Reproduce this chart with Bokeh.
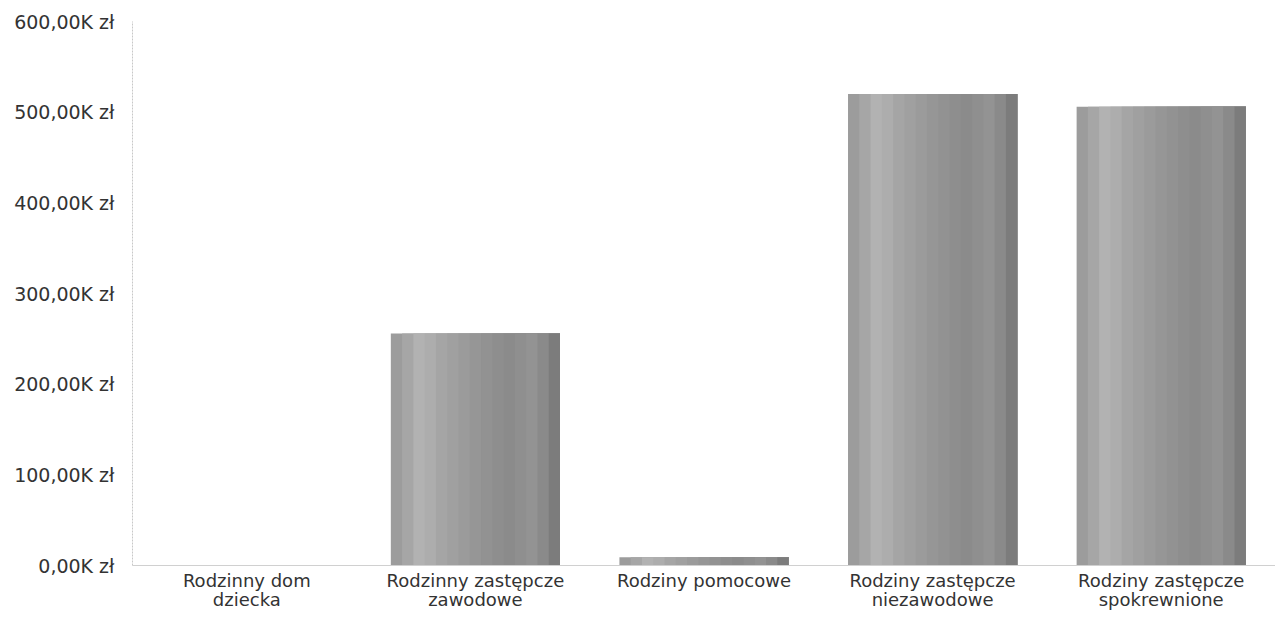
from bokeh.plotting import figure
from bokeh.models import ColumnDataSource, CustomJSTickFormatter, FactorRange
from bokeh.transform import dodge
from bokeh.embed import file_html
from bokeh.resources import INLINE

categories = ["Rodzinny dom\ndziecka", "Rodzinny zastępcze\nzawodowe", "Rodziny pomocowe",
              "Rodziny zastępcze\nniezawodowe", "Rodziny zastępcze\nspokrewnione"]
values = [0, 256000, 9000, 520000, 506000]
y_ticks = [0, 100000, 200000, 300000, 400000, 500000, 600000]

source = ColumnDataSource(data=dict(cat=categories, val=values))

p = figure(x_range=FactorRange(*categories, range_padding=0), y_range=(0, 600000),
           width=1275, height=618, output_backend="svg", toolbar_location=None,
           min_border_left=132, min_border_right=0, min_border_top=21, min_border_bottom=53)
p.outline_line_color = None
p.background_fill_color = "white"
p.xgrid.grid_line_color = None
p.ygrid.grid_line_color = None

# bar drawn as overlapping vertical strips to mimic the shaded gradient
bar_w = 0.74
shades = ["#9c9c9c", "#a6a6a6", "#b2b2b2", "#adadad", "#a5a5a5", "#a0a0a0", "#9b9b9b",
          "#969696", "#929292", "#8e8e8e", "#8b8b8b", "#8f8f8f", "#939393", "#8a8a8a", "#7c7c7c"]
n = len(shades)
sw = bar_w / n
for i, c in enumerate(shades):
    w = bar_w - i * sw
    off = bar_w / 2 - w / 2
    p.vbar(x=dodge("cat", off, range=p.x_range), top="val", width=w, source=source,
           fill_color=c, line_color=None)

p.yaxis.ticker = y_ticks
p.yaxis.formatter = CustomJSTickFormatter(
    code="return (tick/1000).toFixed(2).replace('.', ',') + 'K zł';")
p.yaxis.axis_line_color = "#c8c8c8"
p.yaxis.axis_line_dash = "2 1"
p.yaxis.major_tick_line_color = None
p.yaxis.minor_tick_line_color = None
p.yaxis.major_label_standoff = 12
p.yaxis.major_label_text_font = "DejaVu Sans"
p.yaxis.major_label_text_font_size = "19px"
p.yaxis.major_label_text_color = "#333333"

p.xaxis.axis_line_color = "#d0d0d0"
p.xaxis.major_tick_line_color = None
p.xaxis.major_tick_out = 0
p.xaxis.major_label_standoff = 4
p.xaxis.major_label_text_font = "DejaVu Sans"
p.xaxis.major_label_text_font_size = "18px"
p.xaxis.major_label_text_color = "#333333"
p.xaxis.major_label_text_line_height = 0.95

open("out.html", "w").write(file_html(p, INLINE))
